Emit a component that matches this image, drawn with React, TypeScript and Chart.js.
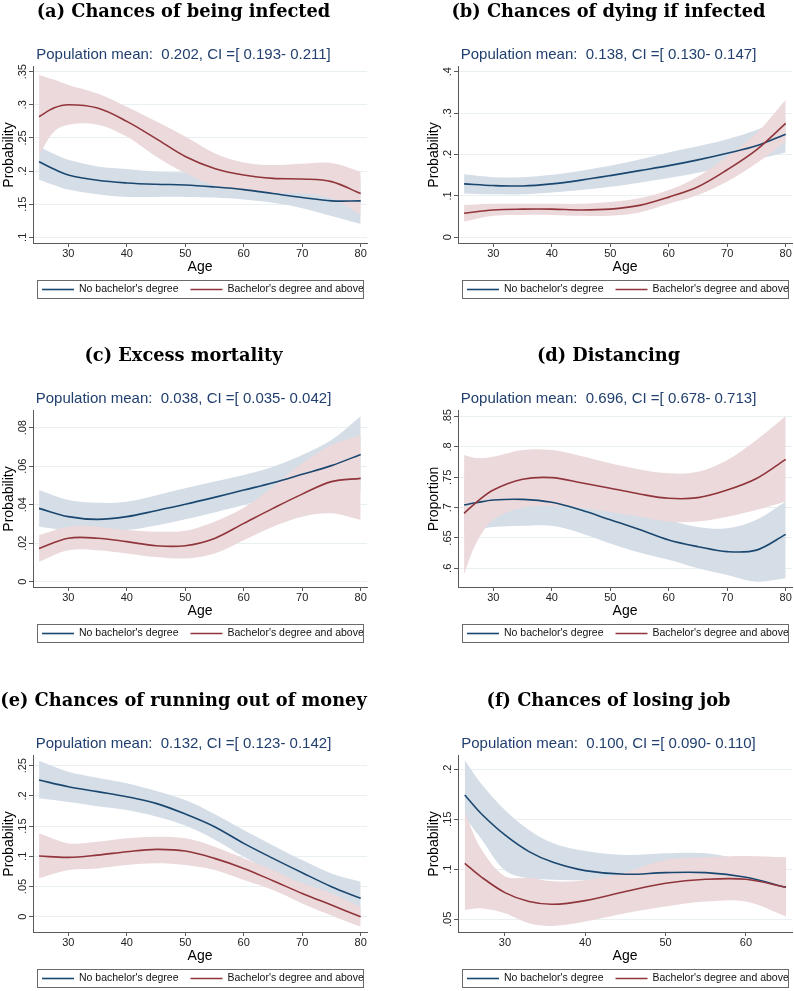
import React, { useEffect, useRef } from 'react';
import { Chart, registerables } from 'chart.js';

Chart.register(...registerables);

// ---------- text ----------
const PANEL_TITLES = [
  '(a) Chances of being infected',
  '(b) Chances of dying if infected',
  '(c) Excess mortality',
  '(d) Distancing',
  '(e) Chances of running out of money',
  '(f) Chances of losing job',
];
const Y_TITLES = ['Probability', 'Probability', 'Probability', 'Proportion', 'Probability', 'Probability'];
const X_TITLE = 'Age';
const POP_MEAN = [0.202, 0.138, 0.038, 0.696, 0.132, 0.1];
const CI_LOW = [0.193, 0.13, 0.035, 0.678, 0.123, 0.09];
const CI_HIGH = [0.211, 0.147, 0.042, 0.713, 0.142, 0.11];
const SERIES_LABELS = ["No bachelor's degree", "Bachelor's degree and above"];

// ---------- ticks ----------
const X_TICKS_80 = [30, 40, 50, 60, 70, 80];
const X_TICKS_60 = [30, 40, 50, 60];
const Y_TICKS_A = [0.1, 0.15, 0.2, 0.25, 0.3, 0.35];
const Y_LABELS_A = ['.1', '.15', '.2', '.25', '.3', '.35'];
const Y_TICKS_B = [0, 0.1, 0.2, 0.3, 0.4];
const Y_LABELS_B = ['0', '.1', '.2', '.3', '.4'];
const Y_TICKS_C = [0, 0.02, 0.04, 0.06, 0.08];
const Y_LABELS_C = ['0', '.02', '.04', '.06', '.08'];
const Y_TICKS_D = [0.6, 0.65, 0.7, 0.75, 0.8, 0.85];
const Y_LABELS_D = ['.6', '.65', '.7', '.75', '.8', '.85'];
const Y_TICKS_E = [0, 0.05, 0.1, 0.15, 0.2, 0.25];
const Y_LABELS_E = ['0', '.05', '.1', '.15', '.2', '.25'];
const Y_TICKS_F = [0.05, 0.1, 0.15, 0.2];
const Y_LABELS_F = ['.05', '.1', '.15', '.2'];

// ---------- data (NOBA = no bachelor's degree, BA = bachelor's and above; HI/LO = CI) ----------
const AGES_A = [25, 27.5, 30, 35, 40, 45, 50, 55, 60, 65, 70, 75, 80];
const A_NOBA = [0.214, 0.203, 0.194, 0.186, 0.182, 0.18, 0.179, 0.176, 0.172, 0.166, 0.16, 0.155, 0.155];
const A_NOBA_HI = [0.237, 0.226, 0.217, 0.207, 0.203, 0.199, 0.198, 0.196, 0.189, 0.181, 0.177, 0.179, 0.19];
const A_NOBA_LO = [0.187, 0.179, 0.172, 0.165, 0.161, 0.161, 0.161, 0.16, 0.157, 0.152, 0.144, 0.132, 0.12];
const A_BA = [0.282, 0.295, 0.3, 0.295, 0.275, 0.249, 0.222, 0.204, 0.194, 0.189, 0.188, 0.184, 0.166];
const A_BA_HI = [0.345, 0.338, 0.33, 0.317, 0.297, 0.275, 0.252, 0.227, 0.213, 0.209, 0.211, 0.212, 0.199];
const A_BA_LO = [0.224, 0.259, 0.27, 0.27, 0.252, 0.222, 0.197, 0.178, 0.17, 0.167, 0.166, 0.159, 0.134];

const AGES_B = [25, 30, 35, 40, 45, 50, 55, 60, 65, 70, 75, 80];
const B_NOBA = [0.129, 0.125, 0.124, 0.129, 0.138, 0.149, 0.161, 0.173, 0.187, 0.203, 0.221, 0.249];
const B_NOBA_HI = [0.152, 0.145, 0.145, 0.151, 0.161, 0.173, 0.188, 0.205, 0.22, 0.237, 0.259, 0.29];
const B_NOBA_LO = [0.106, 0.104, 0.104, 0.108, 0.114, 0.122, 0.132, 0.143, 0.156, 0.171, 0.188, 0.205];
const B_BA = [0.058, 0.066, 0.068, 0.068, 0.066, 0.068, 0.077, 0.097, 0.122, 0.163, 0.211, 0.275];
const B_BA_HI = [0.078, 0.081, 0.081, 0.081, 0.081, 0.085, 0.094, 0.114, 0.147, 0.195, 0.251, 0.332];
const B_BA_LO = [0.038, 0.052, 0.054, 0.054, 0.052, 0.052, 0.06, 0.081, 0.102, 0.135, 0.179, 0.231];

const AGES_C = [25, 30, 35, 40, 45, 50, 55, 60, 65, 70, 75, 80];
const C_NOBA = [0.0381, 0.0338, 0.0324, 0.0338, 0.0369, 0.0402, 0.0438, 0.0476, 0.0514, 0.0558, 0.0603, 0.0661];
const C_NOBA_HI = [0.0476, 0.0424, 0.041, 0.0416, 0.0448, 0.0485, 0.052, 0.0554, 0.0597, 0.0658, 0.0736, 0.086];
const C_NOBA_LO = [0.0286, 0.0268, 0.0262, 0.0268, 0.0292, 0.0324, 0.036, 0.0398, 0.0437, 0.0468, 0.048, 0.047];
const C_BA = [0.0173, 0.0226, 0.0226, 0.0208, 0.0187, 0.0187, 0.0225, 0.0303, 0.0381, 0.0455, 0.052, 0.0537];
const C_BA_HI = [0.0242, 0.0286, 0.0286, 0.0268, 0.026, 0.0265, 0.0312, 0.0384, 0.0494, 0.0615, 0.071, 0.0762];
const C_BA_LO = [0.0104, 0.0164, 0.0164, 0.0147, 0.0128, 0.0121, 0.0147, 0.0216, 0.0286, 0.0338, 0.0355, 0.032];

const AGES_D = [25, 27, 30, 35, 40, 45, 50, 55, 60, 65, 70, 75, 80];
const D_NOBA = [0.7044, 0.708, 0.7126, 0.7137, 0.7088, 0.696, 0.68, 0.664, 0.6467, 0.6357, 0.6275, 0.63, 0.656];
const D_NOBA_HI = [0.75, 0.748, 0.745, 0.745, 0.74, 0.73, 0.715, 0.7, 0.68, 0.668, 0.666, 0.68, 0.71];
const D_NOBA_LO = [0.66, 0.664, 0.668, 0.67, 0.67, 0.658, 0.641, 0.626, 0.614, 0.6, 0.589, 0.578, 0.5835];
const D_BA = [0.6907, 0.708, 0.729, 0.7467, 0.7495, 0.741, 0.732, 0.7225, 0.7154, 0.7165, 0.729, 0.748, 0.7797];
const D_BA_HI = [0.787, 0.782, 0.784, 0.795, 0.795, 0.785, 0.773, 0.763, 0.7566, 0.759, 0.7786, 0.8115, 0.851];
const D_BA_LO = [0.59, 0.64, 0.68, 0.7, 0.703, 0.7, 0.693, 0.685, 0.677, 0.677, 0.685, 0.696, 0.71];

const AGES_E = [25, 30, 35, 40, 45, 50, 55, 60, 65, 70, 75, 80];
const E_NOBA = [0.2263, 0.2152, 0.207, 0.1987, 0.1876, 0.17, 0.149, 0.1214, 0.0966, 0.0728, 0.0497, 0.0304];
const E_NOBA_HI = [0.258, 0.24, 0.23, 0.2208, 0.208, 0.193, 0.17, 0.1435, 0.118, 0.0938, 0.0717, 0.058];
const E_NOBA_LO = [0.196, 0.19, 0.183, 0.1766, 0.166, 0.151, 0.128, 0.0993, 0.074, 0.051, 0.028, 0.003];
const E_BA = [0.1004, 0.0982, 0.102, 0.1076, 0.1115, 0.1087, 0.0966, 0.08, 0.0596, 0.0386, 0.0193, 0];
const E_BA_HI = [0.138, 0.1214, 0.124, 0.1297, 0.1325, 0.1297, 0.1159, 0.0966, 0.0773, 0.0552, 0.0386, 0.0166];
const E_BA_LO = [0.0635, 0.0773, 0.08, 0.0855, 0.0883, 0.0855, 0.0773, 0.0607, 0.0442, 0.022, 0.002, -0.0166];

const AGES_F = [25, 27, 30, 33, 36, 40, 45, 50, 55, 60, 65];
const F_NOBA = [0.1743, 0.156, 0.1343, 0.1177, 0.107, 0.0987, 0.095, 0.0967, 0.0967, 0.092, 0.082];
const F_NOBA_HI = [0.2093, 0.186, 0.1593, 0.1393, 0.126, 0.1183, 0.1143, 0.116, 0.116, 0.1093, 0.103];
const F_NOBA_LO = [0.152, 0.131, 0.099, 0.091, 0.0895, 0.089, 0.0893, 0.0927, 0.0893, 0.0827, 0.0693];
const F_BA = [0.106, 0.0927, 0.0767, 0.0677, 0.065, 0.0687, 0.0777, 0.086, 0.09, 0.09, 0.082];
const F_BA_HI = [0.157, 0.121, 0.093, 0.0915, 0.088, 0.089, 0.097, 0.1093, 0.112, 0.1133, 0.112];
const F_BA_LO = [0.0593, 0.061, 0.056, 0.046, 0.0433, 0.0477, 0.056, 0.0627, 0.0677, 0.0677, 0.0527];

// ---------- styles ----------
const BLUE = '#1a476f';
const RED = '#90353b';
const BLUE_BAND = 'rgb(213,221,231)';
const RED_BAND = 'rgb(236,217,219)';
const GRID = 'rgb(232,240,242)';
const AXIS = '#5a5a5a';
const NAVY = '#22406f';
const SANS = '"Liberation Sans", Arial, sans-serif';
const SERIF = '"DejaVu Serif", "Liberation Serif", serif';

const W = 369;
const H = 302;

type PanelCfg = {
  idx: number;
  left: number;
  top: number;
  ages: number[];
  noba: number[]; nobaHi: number[]; nobaLo: number[];
  ba: number[]; baHi: number[]; baLo: number[];
  xTicks: number[];
  xMin: number; xMax: number;
  yTicks: number[]; yLabels: string[];
  yMin: number; yMax: number;
};

const PANELS: PanelCfg[] = [
  { idx: 0, left: 0, top: 0, ages: AGES_A, noba: A_NOBA, nobaHi: A_NOBA_HI, nobaLo: A_NOBA_LO, ba: A_BA, baHi: A_BA_HI, baLo: A_BA_LO,
    xTicks: X_TICKS_80, xMin: 23.96, xMax: 81.08, yTicks: Y_TICKS_A, yLabels: Y_LABELS_A, yMin: 0.0914, yMax: 0.3571 },
  { idx: 1, left: 425, top: 0, ages: AGES_B, noba: B_NOBA, nobaHi: B_NOBA_HI, nobaLo: B_NOBA_LO, ba: B_BA, baHi: B_BA_HI, baLo: B_BA_LO,
    xTicks: X_TICKS_80, xMin: 23.96, xMax: 81.08, yTicks: Y_TICKS_B, yLabels: Y_LABELS_B, yMin: -0.0138, yMax: 0.4114 },
  { idx: 2, left: 0, top: 344, ages: AGES_C, noba: C_NOBA, nobaHi: C_NOBA_HI, nobaLo: C_NOBA_LO, ba: C_BA, baHi: C_BA_HI, baLo: C_BA_LO,
    xTicks: X_TICKS_80, xMin: 23.96, xMax: 81.08, yTicks: Y_TICKS_C, yLabels: Y_LABELS_C, yMin: -0.00275, yMax: 0.0887 },
  { idx: 3, left: 425, top: 344, ages: AGES_D, noba: D_NOBA, nobaHi: D_NOBA_HI, nobaLo: D_NOBA_LO, ba: D_BA, baHi: D_BA_HI, baLo: D_BA_LO,
    xTicks: X_TICKS_80, xMin: 23.96, xMax: 81.08, yTicks: Y_TICKS_D, yLabels: Y_LABELS_D, yMin: 0.5692, yMax: 0.8594 },
  { idx: 4, left: 0, top: 689, ages: AGES_E, noba: E_NOBA, nobaHi: E_NOBA_HI, nobaLo: E_NOBA_LO, ba: E_BA, baHi: E_BA_HI, baLo: E_BA_LO,
    xTicks: X_TICKS_80, xMin: 23.96, xMax: 81.08, yTicks: Y_TICKS_E, yLabels: Y_LABELS_E, yMin: -0.0253, yMax: 0.2661 },
  { idx: 5, left: 425, top: 689, ages: AGES_F, noba: F_NOBA, nobaHi: F_NOBA_HI, nobaLo: F_NOBA_LO, ba: F_BA, baHi: F_BA_HI, baLo: F_BA_LO,
    xTicks: X_TICKS_60, xMin: 24.16, xMax: 65.74, yTicks: Y_TICKS_F, yLabels: Y_LABELS_F, yMin: 0.0373, yMax: 0.2133 },
];

function pts(xs: number[], ys: number[]) {
  return xs.map((x, i) => ({ x, y: ys[i] }));
}

function measure(text: string, font: string) {
  const c = document.createElement('canvas').getContext('2d')!;
  c.font = font;
  return c.measureText(text).width;
}

const boxLegend = {
  id: 'boxLegend',
  afterDraw(chart: any) {
    const ctx = chart.ctx as CanvasRenderingContext2D;
    const left = 37, top = 280, width = 326, height = 18;
    ctx.save();
    ctx.fillStyle = '#fff';
    ctx.fillRect(left, top, width, height);
    ctx.strokeStyle = '#6a6a6a';
    ctx.lineWidth = 1;
    ctx.strokeRect(left + 0.5, top + 0.5, width, height);
    ctx.beginPath();
    ctx.rect(left + 1, top + 1, width - 1, height - 1);
    ctx.clip();
    ctx.font = `10.5px ${SANS}`;
    ctx.textBaseline = 'middle';
    const cy = top + height / 2 + 0.5;
    const items = chart.data.datasets.filter((d: any) => d.legendOrder !== undefined)
      .sort((a: any, b: any) => a.legendOrder - b.legendOrder);
    let x = left + 5;
    items.forEach((d: any) => {
      ctx.strokeStyle = d.borderColor;
      ctx.lineWidth = d.borderWidth;
      ctx.beginPath();
      ctx.moveTo(x, cy);
      ctx.lineTo(x + 32, cy);
      ctx.stroke();
      x += 37;
      ctx.fillStyle = '#111';
      ctx.fillText(d.label, x, cy);
      x += ctx.measureText(d.label).width + 12;
    });
    ctx.restore();
  },
};

function buildConfig(p: PanelCfg): any {
  const tickFont = `11px ${SANS}`;
  const widest = Math.max(...p.yLabels.map((l) => measure(l, tickFont)));
  const yPad = 10.2 - 4 - widest / 2;
  const subtitle = `Population mean:  ${POP_MEAN[p.idx].toFixed(3)}, CI =[ ${CI_LOW[p.idx].toFixed(3)}- ${CI_HIGH[p.idx].toFixed(3)}]`;
  const lineCommon = { pointRadius: 0, borderWidth: 1.6, fill: false, tension: 0.35 };
  const bandCommon = { pointRadius: 0, borderWidth: 0, borderColor: 'rgba(0,0,0,0)', tension: 0.35 };
  return {
    type: 'line',
    data: {
      datasets: [
        { ...lineCommon, label: SERIES_LABELS[1], legendOrder: 1, data: pts(p.ages, p.ba), borderColor: RED, backgroundColor: RED },
        { ...lineCommon, label: SERIES_LABELS[0], legendOrder: 0, data: pts(p.ages, p.noba), borderColor: BLUE, backgroundColor: BLUE },
        { ...bandCommon, label: 'ba_hi', data: pts(p.ages, p.baHi), backgroundColor: RED_BAND, fill: '+1' },
        { ...bandCommon, label: 'ba_lo', data: pts(p.ages, p.baLo), fill: false },
        { ...bandCommon, label: 'noba_hi', data: pts(p.ages, p.nobaHi), backgroundColor: BLUE_BAND, fill: '+1' },
        { ...bandCommon, label: 'noba_lo', data: pts(p.ages, p.nobaLo), fill: false },
      ],
    },
    options: {
      animation: false,
      responsive: false,
      devicePixelRatio: 1,
      events: [],
      layout: { padding: { left: 0, right: W - 367, top: 0, bottom: H - 243 - 32.4 } },
      plugins: {
        legend: { display: false },
        tooltip: { enabled: false },
        title: {
          display: true,
          text: PANEL_TITLES[p.idx],
          color: '#000',
          font: { family: SERIF, size: 17.8, weight: 'bold', lineHeight: 1.2 },
          padding: { top: 1.3, bottom: 0 },
        },
        subtitle: {
          display: true,
          text: subtitle,
          color: NAVY,
          font: { family: SANS, size: 15, lineHeight: 1.2 },
          padding: { top: 23.3, bottom: 3.0 },
        },
      },
      scales: {
        x: {
          type: 'linear',
          min: p.xMin,
          max: p.xMax,
          afterBuildTicks: (s: any) => { s.ticks = p.xTicks.map((v) => ({ value: v })); },
          afterFit: (s: any) => { s.height = 32.4; },
          ticks: { font: { family: SANS, size: 11 }, color: '#222', padding: 0, maxRotation: 0, autoSkip: false, callback: (v: any) => String(v) },
          grid: { drawOnChartArea: false, tickLength: 4, tickColor: AXIS, tickWidth: 1 },
          border: { color: AXIS, width: 1 },
          title: { display: true, text: X_TITLE, color: '#000', font: { family: SANS, size: 14, lineHeight: 1.2 }, padding: { top: 0, bottom: 0 } },
        },
        y: {
          type: 'linear',
          min: p.yMin,
          max: p.yMax,
          afterBuildTicks: (s: any) => { s.ticks = p.yTicks.map((v) => ({ value: v })); },
          afterFit: (s: any) => { s.width = 33; },
          ticks: {
            font: { family: SANS, size: 11 }, color: '#222', padding: yPad,
            minRotation: 90, maxRotation: 90, crossAlign: 'center', autoSkip: false,
            callback: (_v: any, i: number) => p.yLabels[i],
          },
          grid: { color: GRID, lineWidth: 1, tickLength: 4, tickColor: AXIS, tickWidth: 1 },
          border: { color: AXIS, width: 1 },
          title: { display: true, text: Y_TITLES[p.idx], color: '#000', font: { family: SANS, size: 14, lineHeight: 1.2 }, padding: { top: 0.8, bottom: 0 } },
        },
      },
    },
    plugins: [boxLegend],
  };
}

function Panel({ cfg }: { cfg: PanelCfg }) {
  const ref = useRef<HTMLCanvasElement>(null);
  useEffect(() => {
    const chart = new Chart(ref.current!, buildConfig(cfg));
    return () => chart.destroy();
  }, [cfg]);
  return (
    <canvas
      ref={ref}
      width={W}
      height={H}
      style={{ position: 'absolute', left: cfg.left, top: cfg.top, width: W, height: H }}
    />
  );
}

export default function App() {
  return (
    <div style={{ position: 'absolute', left: 0, top: 0, width: 794, height: 991, background: '#fff', overflow: 'hidden' }}>
      {PANELS.map((p) => (
        <Panel key={p.idx} cfg={p} />
      ))}
    </div>
  );
}
